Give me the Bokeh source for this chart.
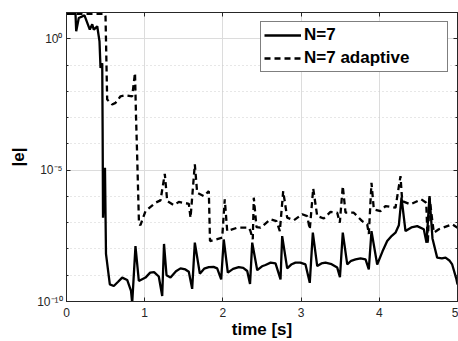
import numpy as np
from bokeh.plotting import figure
from bokeh.models import (Range1d, FixedTicker, LinearAxis, LogAxis, Legend, LegendItem,
                          ColumnDataSource)
from bokeh.embed import file_html
from bokeh.resources import INLINE

# ---- data (time in s, log10 of |e|) ----
n7_t = [0.0, 0.115, 0.124, 0.157, 0.23, 0.298, 0.329, 0.349, 0.393, 0.422, 0.435, 0.457,
        0.462, 0.467, 0.492, 0.505, 0.554, 0.605, 0.66, 0.712, 0.776, 0.825, 0.840, 0.882,
        0.925, 1.010, 1.07, 1.12, 1.18, 1.224, 1.247, 1.279, 1.330, 1.40, 1.458, 1.52,
        1.564, 1.607, 1.641, 1.705, 1.76, 1.820, 1.88, 1.927, 1.978, 2.011, 2.063, 2.13,
        2.203, 2.26, 2.311, 2.347, 2.375, 2.439, 2.50, 2.545, 2.61, 2.673, 2.737, 2.758,
        2.822, 2.88, 2.928, 2.99, 3.056, 3.111, 3.150, 3.206, 3.26, 3.312, 3.39, 3.462,
        3.497, 3.533, 3.590, 3.64, 3.696, 3.76, 3.824, 3.866, 3.900, 3.973, 4.04, 4.101,
        4.16, 4.207, 4.250, 4.284, 4.335, 4.41, 4.485, 4.569, 4.604, 4.642, 4.680, 4.740,
        4.80, 4.847, 4.90, 4.932, 4.987, 5.0]
n7_log = [0.95, 0.95, 0.285, 0.79, 0.89, 0.35, 0.55, 0.35, 0.475, -0.1, -1.11, -0.93,
          -3.5, -6.81, -4.91, -8.19, -9.35, -9.41, -9.25, -9.09, -9.18, -9.6, -10.06, -7.89,
          -9.22, -9.09, -8.90, -8.88, -9.05, -9.79, -7.81, -9.0, -9.09, -8.85, -8.74, -8.78,
          -8.87, -9.52, -7.76, -8.94, -8.75, -8.69, -8.68, -8.74, -9.16, -7.64, -8.90, -8.76,
          -8.69, -8.72, -8.84, -9.33, -7.76, -8.81, -8.66, -8.61, -8.52, -8.55, -9.16, -7.51,
          -8.74, -8.58, -8.52, -8.52, -8.59, -9.29, -7.38, -8.65, -8.55, -8.52, -8.58, -8.71,
          -9.07, -7.38, -8.59, -8.45, -8.40, -8.36, -8.40, -8.78, -7.32, -8.59, -8.10, -7.70,
          -7.50, -7.38, -7.10, -6.05, -7.32, -7.18, -7.13, -7.25, -7.76, -5.99, -7.60, -8.33,
          -8.36, -8.33, -8.45, -8.59, -9.16, -9.35]

ad_t = [0.0, 0.486, 0.499, 0.520, 0.584, 0.627, 0.691, 0.754, 0.840, 0.876, 0.889, 0.902,
        0.927, 0.946, 1.010, 1.138, 1.202, 1.257, 1.288, 1.372, 1.436, 1.564, 1.586, 1.641,
        1.671, 1.756, 1.820, 1.835, 1.991, 2.024, 2.055, 2.183, 2.331, 2.353, 2.382, 2.395,
        2.430, 2.481, 2.609, 2.685, 2.728, 2.771, 2.822, 2.907, 3.014, 3.078, 3.111, 3.155,
        3.206, 3.290, 3.376, 3.462, 3.495, 3.533, 3.568, 3.674, 3.781, 3.845, 3.866, 3.900,
        3.930, 4.015, 4.079, 4.207, 4.271, 4.293, 4.399, 4.536, 4.600, 4.620, 4.642, 4.697,
        4.761, 4.932, 5.0]
ad_log = [0.95, 0.95, 0.86, -2.31, -2.50, -2.44, -2.19, -2.15, -2.19, -1.30, -2.95, -4.28,
          -7.06, -7.09, -6.56, -6.24, -6.15, -5.14, -6.18, -6.33, -6.21, -6.28, -6.81, -4.78,
          -5.86, -5.99, -5.80, -7.70, -7.57, -6.11, -7.32, -7.19, -7.19, -7.32, -7.63, -6.05,
          -7.17, -7.19, -6.87, -6.94, -7.32, -5.80, -6.81, -6.91, -6.68, -6.75, -7.25, -5.70,
          -6.75, -6.84, -6.59, -6.62, -7.00, -5.61, -6.62, -6.62, -6.94, -7.06, -7.43, -5.48,
          -6.49, -6.56, -6.37, -6.43, -5.23, -6.18, -6.30, -6.11, -6.24, -7.81, -6.05, -7.38,
          -7.25, -7.06, -7.19]

x_ticks = [0, 1, 2, 3, 4, 5]
y_ticks = [1e-10, 1e-5, 1e0]
y_tick_labels = {1e-10: "10\u207b\u00b9\u2070", 1e-5: "10\u207b\u2075", 1e0: "10\u2070"}
y_minor = [10.0 ** k for k in range(-10, 2)]

series_names = ["N=7", "N=7 adaptive"]

AX = "#262626"
GRID = "#dcdcdc"
FONT = "Liberation Sans"

p = figure(frame_width=391, frame_height=289, output_backend="svg", toolbar_location=None,
           y_axis_type="log", x_range=Range1d(0, 5), y_range=Range1d(1e-10, 10),
           min_border_left=66, min_border_right=1, min_border_top=12, min_border_bottom=39)
p.background_fill_color = "white"
p.border_fill_color = "white"
p.outline_line_color = AX
p.outline_line_width = 1

src1 = ColumnDataSource(dict(t=n7_t, e=[10.0 ** v for v in n7_log]))
src2 = ColumnDataSource(dict(t=ad_t, e=[10.0 ** v for v in ad_log]))
r1 = p.line("t", "e", source=src1, line_color="black", line_width=2.3)
r2 = p.line("t", "e", source=src2, line_color="black", line_width=2.3, line_dash="6 4")

# axes
xa = p.xaxis[0]
xa.ticker = FixedTicker(ticks=x_ticks)
ya = p.yaxis[0]
ya.ticker = FixedTicker(ticks=y_ticks, minor_ticks=y_minor)
ya.major_label_overrides = y_tick_labels
for ax in (xa, ya):
    ax.axis_line_color = AX
    ax.major_tick_line_color = AX
    ax.minor_tick_line_color = AX
    ax.major_tick_in = 4
    ax.major_tick_out = 0
    ax.minor_tick_in = 2
    ax.minor_tick_out = 0
    ax.major_label_text_font = FONT
    ax.major_label_text_font_size = "12px"
    ax.major_label_text_color = "#262626"
    ax.axis_label_text_font = FONT
    ax.axis_label_text_font_style = "bold"
    ax.axis_label_text_font_size = "17px"
    ax.axis_label_text_color = "black"
xa.minor_tick_line_color = None
xa.axis_label = "time [s]"
xa.major_label_standoff = 6
xa.axis_label_standoff = 0
ya.axis_label = "|e|"
ya.major_label_standoff = 4
ya.axis_label_standoff = 6

# mirrored box axes (ticks only, labels not painted)
top = LinearAxis(ticker=FixedTicker(ticks=x_ticks), major_label_text_font_size="1px",
                 major_label_text_color=None,
                 major_label_overrides={t: "" for t in x_ticks},
                 major_tick_in=4, major_tick_out=0, minor_tick_line_color=None,
                 axis_line_color=AX, major_tick_line_color=AX, major_label_standoff=0)
right = LogAxis(ticker=FixedTicker(ticks=y_ticks, minor_ticks=y_minor),
                major_label_text_font_size="1px", major_label_text_color=None,
                major_label_overrides={t: "" for t in y_ticks},
                major_tick_in=4, major_tick_out=0,
                minor_tick_in=2, minor_tick_out=0, axis_line_color=AX,
                major_tick_line_color=AX, minor_tick_line_color=AX, major_label_standoff=0)
p.add_layout(top, "above")
p.add_layout(right, "right")

# grids
p.xgrid.ticker = FixedTicker(ticks=x_ticks)
p.xgrid.grid_line_color = GRID
p.ygrid.ticker = FixedTicker(ticks=y_ticks, minor_ticks=y_minor)
p.ygrid.grid_line_color = GRID
p.ygrid.minor_grid_line_color = "#cfcfcf"
p.ygrid.minor_grid_line_dash = "1 3"

legend = Legend(items=[LegendItem(label=series_names[0], renderers=[r1]),
                       LegendItem(label=series_names[1], renderers=[r2])],
                location="top_right", margin=9, padding=3, spacing=3,
                glyph_width=37, glyph_height=20, label_height=20, label_standoff=3,
                label_width=140, label_text_font=FONT, label_text_font_style="bold",
                label_text_font_size="17px", label_text_color="black",
                border_line_color="black", border_line_width=1,
                background_fill_color="white", background_fill_alpha=1)
p.add_layout(legend)

open("out.html", "w").write(file_html(p, INLINE))
